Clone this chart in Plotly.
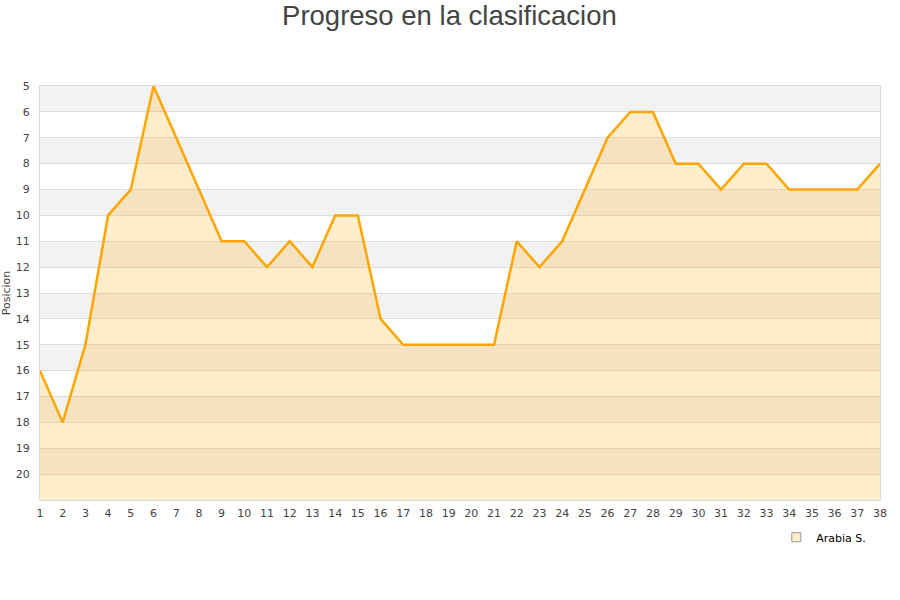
import plotly.graph_objects as go

jornadas = list(range(1, 39))
posiciones = [16, 18, 15, 10, 9, 5, 7, 9, 11, 11, 12, 11, 12, 10, 10, 14, 15, 15, 15, 15,
              15, 11, 12, 11, 9, 7, 6, 6, 8, 8, 9, 8, 8, 9, 9, 9, 9, 8]
y_ticks = list(range(5, 21))
y_bottom = 21
y_top = 5
team = "Arabia S."

fig = go.Figure()

# baseline for the fill (bottom of the reversed axis)
fig.add_trace(go.Scatter(x=jornadas, y=[y_bottom] * len(jornadas), mode="lines",
                         line=dict(width=0), showlegend=False, hoverinfo="skip"))
fig.add_trace(go.Scatter(x=jornadas, y=posiciones, mode="lines", name=team,
                         line=dict(color="#FFA500", width=2.5),
                         fill="tonexty", fillcolor="rgba(255,165,0,0.2)",
                         showlegend=False))
# legend marker
fig.add_trace(go.Scatter(x=[None], y=[None], mode="markers", name=team,
                         marker=dict(symbol="square", size=9, color="#FFEDCC",
                                     line=dict(color="#999999", width=1))))

shapes = []
for k in y_ticks:
    if k % 2 == 1:
        shapes.append(dict(type="rect", xref="paper", yref="y", x0=0, x1=1,
                           y0=k, y1=k + 1, fillcolor="#F2F2F2", line=dict(width=0),
                           layer="below"))

fig.update_layout(
    width=900, height=600,
    paper_bgcolor="white", plot_bgcolor="white",
    margin=dict(l=40, r=20, t=86, b=100, autoexpand=False),
    title=dict(text="Progreso en la clasificacion", x=0.4994, xanchor="center",
               y=0.975, yanchor="middle", yref="container",
               font=dict(family="Liberation Sans, Arial", size=27.5, color="#444444")),
    shapes=shapes,
    showlegend=True,
    legend=dict(x=0.8765, y=-0.055, xanchor="left", yanchor="top",
                font=dict(family="DejaVu Sans", size=11, color="#000000"),
                bgcolor="rgba(0,0,0,0)", itemwidth=30),
    font=dict(family="DejaVu Sans", size=11, color="#444444"),
)
fig.update_xaxes(range=[1, 38], tickmode="array", tickvals=jornadas,
                 ticktext=[str(j) for j in jornadas], showgrid=False, automargin=False,
                 showline=True, linecolor="#D8D8D8", linewidth=1, mirror=True,
                 zeroline=False, ticks="", ticklabelstandoff=3,
                 tickfont=dict(size=11, color="#444444"))
fig.update_yaxes(range=[y_bottom, y_top], tickmode="array", tickvals=y_ticks,
                 ticktext=[str(v) for v in y_ticks], showgrid=True, automargin=False,
                 gridcolor="#DDDDDD", gridwidth=1,
                 showline=True, linecolor="#D8D8D8", linewidth=1, mirror=True,
                 zeroline=False, ticks="", ticklabelstandoff=7,
                 tickfont=dict(size=11, color="#444444"),
                 title=dict(text="Posicion", font=dict(size=11, color="#444444"),
                            standoff=5))

fig.write_html("out.html", config={"displayModeBar": False},
               post_script="document.body.style.margin='0';document.body.style.padding='0';")
